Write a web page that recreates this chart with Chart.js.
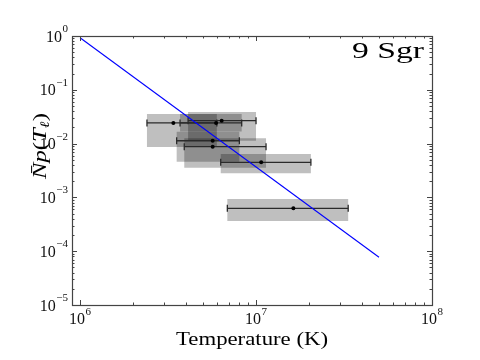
<!DOCTYPE html>
<html>
<head>
<meta charset="utf-8">
<script src="https://cdn.jsdelivr.net/npm/chart.js@4.4.1/dist/chart.umd.min.js"></script>
<style>
  html, body { margin: 0; padding: 0; background: #fff; }
  #wrap { width: 480px; height: 360px; }
</style>
</head>
<body>
<div id="wrap"><canvas id="chart" width="480" height="360"></canvas></div>
<script>
// star label and axis text
const starName = "9 Sgr";
const xTitle = "Temperature (K)";

// each measurement: temperature range (K), best value, and N p(T) value with its box range
const tempLo  = [2.40e6, 3.70e6, 4.11e6, 3.54e6, 3.91e6, 6.30e6, 6.87e6];
const tempHi  = [5.99e6, 8.29e6, 1.00e7, 8.04e6, 1.14e7, 2.05e7, 3.34e7];
const tempMid = [3.39e6, 5.93e6, 6.38e6, 5.67e6, 5.67e6, 1.07e7, 1.63e7];
const npMid   = [0.0242, 0.0242, 0.0267, 0.0113, 0.00875, 0.00449, 6.27e-4];
const npBoxHi = [0.0355, 0.0355, 0.0387, 0.0166, 0.01256, 0.0064, 9.3e-4];
const npBoxLo = [0.00865, 0.0167, 0.0113, 0.00461, 0.00356, 0.0028, 3.64e-4];

// power-law fit line
const fitT  = [1.0e6, 5.0e7];
const fitNp = [0.93, 7.7e-5];

// axis ranges and labelled decades
const xRange = [9.0e5, 1.0e8];
const yRange = [1.0e-5, 1.0];
const xDecades = [6, 7, 8];
const yDecades = [0, -1, -2, -3, -4, -5];

const SERIF = "'Liberation Serif', 'DejaVu Serif', serif";

const datasets = [];

// blue fit line on top
datasets.push({
    data: fitT.map((t, i) => ({ x: t, y: fitNp[i] })),
    showLine: true,
    borderColor: "#0000ff",
    borderWidth: 1.1,
    pointRadius: 0,
    order: 1
});

// best-fit points
datasets.push({
    data: tempMid.map((t, i) => ({ x: t, y: npMid[i] })),
    pointStyle: "circle",
    pointRadius: 2,
    pointBackgroundColor: "#000",
    pointBorderColor: "#000",
    pointBorderWidth: 0,
    order: 2
});

// horizontal error bars with end caps
tempLo.forEach((lo, i) => {
    datasets.push({
        data: [{ x: lo, y: npMid[i] }, { x: tempHi[i], y: npMid[i] }],
        showLine: true,
        borderColor: "#2a2a2a",
        borderWidth: 1.3,
        pointStyle: "line",
        pointRotation: 90,
        pointRadius: 3.5,
        pointBorderColor: "#2a2a2a",
        pointBorderWidth: 1.3,
        order: 3
    });
});

// translucent grey boxes
tempLo.forEach((lo, i) => {
    const hi = tempHi[i];
    datasets.push({
        data: [
            { x: lo, y: npBoxLo[i] },
            { x: hi, y: npBoxLo[i] },
            { x: hi, y: npBoxHi[i] },
            { x: lo, y: npBoxHi[i] },
            { x: lo, y: npBoxLo[i] }
        ],
        showLine: true,
        fill: "shape",
        backgroundColor: "rgba(0,0,0,0.25)",
        borderColor: "rgba(0,0,0,0)",
        borderWidth: 0,
        pointRadius: 0,
        tension: 0,
        order: 4
    });
});

// frame, inward ticks and all the text
const decorPlugin = {
    id: "decor",
    afterDraw(chart) {
        const ctx = chart.ctx;
        const area = chart.chartArea;
        const xs = chart.scales.x;
        const ys = chart.scales.y;

        ctx.save();
        ctx.strokeStyle = "#444";
        ctx.lineWidth = 1;

        // minor + major ticks, pointing inside, on all four sides
        function logTicks(scale) {
            const out = [];
            const d0 = Math.floor(Math.log10(scale.min));
            const d1 = Math.ceil(Math.log10(scale.max));
            for (let d = d0; d <= d1; d++) {
                for (let k = 1; k <= 9; k++) {
                    const v = k * Math.pow(10, d);
                    if (v >= scale.min * 0.9999 && v <= scale.max * 1.0001) out.push({ v: v, major: k === 1 });
                }
            }
            return out;
        }
        ctx.beginPath();
        logTicks(xs).forEach(t => {
            const px = Math.round(xs.getPixelForValue(t.v)) + 0.5;
            const len = t.major ? 5 : 2.5;
            ctx.moveTo(px, area.bottom); ctx.lineTo(px, area.bottom - len);
            ctx.moveTo(px, area.top); ctx.lineTo(px, area.top + len);
        });
        logTicks(ys).forEach(t => {
            const py = Math.round(ys.getPixelForValue(t.v)) + 0.5;
            const len = t.major ? 5 : 2.5;
            ctx.moveTo(area.left, py); ctx.lineTo(area.left + len, py);
            ctx.moveTo(area.right, py); ctx.lineTo(area.right - len, py);
        });
        ctx.stroke();

        ctx.lineWidth = 1.2;
        ctx.strokeRect(Math.round(area.left) + 0.5, Math.round(area.top) + 0.5,
            Math.round(area.right - area.left), Math.round(area.bottom - area.top));

        // tick labels like 10^n
        ctx.fillStyle = "#111";
        const bigFont = "16px " + SERIF;
        const smallFont = "11px " + SERIF;
        function powLabel(exp) {
            const e = exp < 0 ? "\u2212" + Math.abs(exp) : String(exp);
            ctx.font = bigFont;
            const w1 = ctx.measureText("10").width;
            ctx.font = smallFont;
            const w2 = ctx.measureText(e).width;
            return { e: e, w1: w1, w2: w2, total: w1 + w2 + 0.5 };
        }
        function drawPow(lab, left, base) {
            ctx.textAlign = "left";
            ctx.textBaseline = "alphabetic";
            ctx.font = bigFont;
            ctx.fillText("10", left, base);
            ctx.font = smallFont;
            ctx.fillText(lab.e, left + lab.w1 + 0.5, base - 9.5);
        }
        xDecades.forEach(d => {
            const px = xs.getPixelForValue(Math.pow(10, d));
            const lab = powLabel(d);
            drawPow(lab, px - lab.total / 2, area.bottom + 19);
        });
        yDecades.forEach(d => {
            const py = ys.getPixelForValue(Math.pow(10, d));
            const lab = powLabel(d);
            drawPow(lab, area.left - 4 - lab.total, py + 5.5);
        });

        // stretched text helper
        function fitText(text, font, x, y, width, align) {
            ctx.font = font;
            const w = ctx.measureText(text).width;
            ctx.save();
            ctx.translate(x, y);
            ctx.scale(width / w, 1);
            ctx.textAlign = "left";
            ctx.textBaseline = "alphabetic";
            const x0 = align === "right" ? -w : align === "center" ? -w / 2 : 0;
            ctx.fillText(text, x0, 0);
            ctx.restore();
        }

        ctx.fillStyle = "#000";
        fitText(xTitle, "19px " + SERIF, (area.left + area.right) / 2, 345, 152, "center");
        fitText(starName, "24px " + SERIF, area.right - 8, 58, 72, "right");

        // y title: N-bar p(T_l), rotated
        const runs = [
            { t: "N\u0304", f: "italic 19px " + SERIF, dy: 0 },
            { t: "p", f: "italic 19px " + SERIF, dy: 0 },
            { t: "(", f: "19px " + SERIF, dy: 0 },
            { t: "T", f: "italic 19px " + SERIF, dy: 0 },
            { t: "\u2113", f: "italic 13px " + SERIF, dy: 3 },
            { t: ")", f: "19px " + SERIF, dy: 0 }
        ];
        let total = 0;
        runs.forEach(r => { ctx.font = r.f; r.w = ctx.measureText(r.t).width; total += r.w; });
        ctx.save();
        ctx.translate(46, 146);
        ctx.rotate(-Math.PI / 2);
        ctx.scale(66 / total, 1);
        ctx.textAlign = "left";
        ctx.textBaseline = "alphabetic";
        let cx = -total / 2;
        runs.forEach(r => {
            ctx.font = r.f;
            ctx.fillText(r.t, cx, r.dy);
            cx += r.w;
        });
        ctx.restore();

        ctx.restore();
    }
};

new Chart(document.getElementById("chart"), {
    type: "scatter",
    data: { datasets: datasets },
    options: {
        responsive: false,
        animation: false,
        devicePixelRatio: 1,
        layout: { padding: { left: 72, top: 36, right: 48, bottom: 55 } },
        plugins: { legend: { display: false }, tooltip: { enabled: false } },
        scales: {
            x: {
                type: "logarithmic",
                bounds: "data",
                min: xRange[0],
                max: xRange[1],
                ticks: { display: false },
                grid: { display: false, drawTicks: false },
                border: { display: false }
            },
            y: {
                type: "logarithmic",
                bounds: "data",
                min: yRange[0],
                max: yRange[1],
                ticks: { display: false },
                grid: { display: false, drawTicks: false },
                border: { display: false }
            }
        }
    },
    plugins: [decorPlugin]
});
</script>
</body>
</html>
